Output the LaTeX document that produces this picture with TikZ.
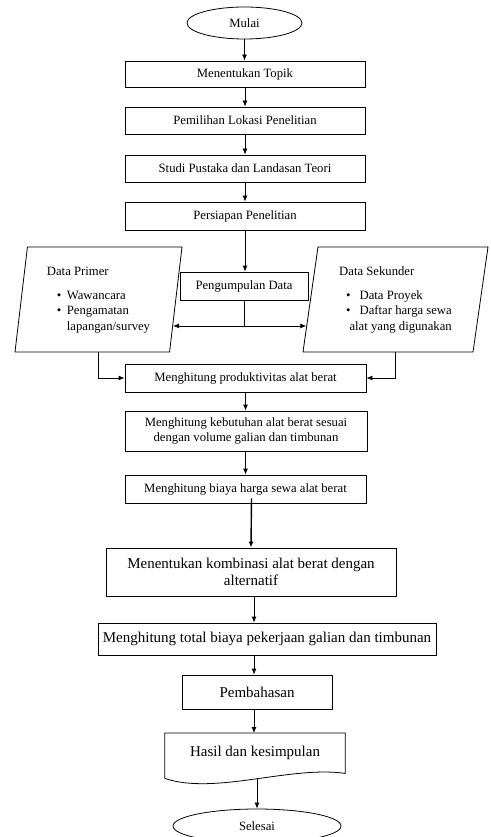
\documentclass[tikz,border=0pt]{standalone}
\usepackage{fontspec}
\setmainfont{Liberation Serif}
\usetikzlibrary{arrows.meta, positioning, shapes.geometric, calc}

\begin{document}
\begin{tikzpicture}[x=1pt, y=-1pt,
    terminal/.style={ellipse, draw, line width=0.8pt, font=\fontsize{12.7}{15}\selectfont, inner sep=0pt},
    process/.style={rectangle, draw, line width=0.8pt, font=\fontsize{12.7}{15.5}\selectfont, align=center, inner sep=2pt},
    process_big/.style={rectangle, draw, line width=0.8pt, font=\fontsize{15}{17.5}\selectfont, align=center, inner sep=2pt},
    datain/.style={trapezium, trapezium stretches body, draw, line width=0.8pt, font=\fontsize{12.7}{15.5}\selectfont, inner sep=0pt},
    docbox/.style={rectangle, font=\fontsize{15}{17.5}\selectfont, inner sep=0pt},
    arrowstyle/.style={-{Latex[length=6pt, width=5pt]}, line width=0.8pt}
  ]
  \useasboundingbox (0,0) rectangle (490,837);

  % --- Main column, top ---
  \node[terminal, minimum width=115, minimum height=32] (mulai) at (244.5,23) {Mulai};
  \node[process, minimum width=240, minimum height=26] (topik) at (245,74) {Menentukan Topik};
  \node[process, minimum width=240, minimum height=27] (lokasi) at (245,120.5) {Pemilihan Lokasi Penelitian};
  \node[process, minimum width=240, minimum height=27] (pustaka) at (245,168.5) {Studi Pustaka dan Landasan Teori};
  \node[process, minimum width=240, minimum height=28] (persiapan) at (245,216) {Persiapan Penelitian};
  \node[process, minimum width=128, minimum height=28] (kumpul) at (244,286) {Pengumpulan Data};

  % --- Data inputs (left and right) ---
  \node[datain, trapezium left angle=80, trapezium right angle=100, minimum width=167, minimum height=105] (primer) at (98.5,299.5) {%
    \begin{tabular}{@{}l@{\hspace{5.5pt}}l@{}}
      \multicolumn{2}{@{}l}{Data Primer}\\[8.5pt]
      \hspace*{10pt}\textbullet & Wawancara\\
      \hspace*{10pt}\textbullet & Pengamatan\\
      & lapangan/survey
    \end{tabular}};
  \node[datain, trapezium left angle=78, trapezium right angle=102, minimum width=185, minimum height=105] (sekunder) at (395.5,299.5) {%
    \begin{tabular}{@{}l@{\hspace{9pt}}l@{}}
      \multicolumn{2}{@{}l}{Data Sekunder}\\[8.5pt]
      \hspace*{7pt}\textbullet & Data Proyek\\
      \hspace*{7pt}\textbullet & Daftar harga sewa\\
      \multicolumn{2}{@{}r@{}}{alat yang digunakan}
    \end{tabular}};

  % --- Main column, bottom ---
  \node[process, minimum width=241, minimum height=28] (produktif) at (245.5,378) {Menghitung produktivitas alat berat};
  \node[process, minimum width=242, minimum height=40] (kebutuhan) at (246,431) {Menghitung kebutuhan alat berat sesuai\\dengan volume galian dan timbunan};
  \node[process, minimum width=241, minimum height=28] (biaya) at (245.5,489) {Menghitung biaya harga sewa alat berat};
  \node[process_big, minimum width=290, minimum height=48] (kombinasi) at (251,572) {Menentukan kombinasi alat berat dengan\\alternatif};
  \node[process_big, minimum width=338, minimum height=32] (total) at (267,639) {Menghitung total biaya pekerjaan galian dan timbunan};
  \node[process_big, minimum width=150, minimum height=34] (bahas) at (257,692) {Pembahasan};
  \node[docbox, minimum width=180, minimum height=40, anchor=north] (hasil) at (255,733) {Hasil dan kesimpulan};
  \draw[line width=0.8pt] ([yshift=-5pt]hasil.south west) -- (hasil.north west) -- (hasil.north east) -- (hasil.south east)
    .. controls +(-55,-8) and +(50,17) .. ([yshift=-5pt]hasil.south west);
  \node[terminal, minimum width=168, minimum height=34] (selesai) at (257,826) {Selesai};

  % --- Connections ---
  \draw[arrowstyle] (mulai.south) -- (mulai.south |- topik.north);
  \draw[arrowstyle] (topik.south) -- (lokasi.north);
  \draw[arrowstyle] (lokasi.south) -- (pustaka.north);
  \draw[arrowstyle] (pustaka.south) -- (persiapan.north);
  \draw[arrowstyle] (persiapan.south) -- (persiapan.south |- kumpul.north);

  \coordinate (pr) at ($(primer.bottom right corner)!0.25!(primer.top right corner)$);
  \coordinate (sk) at ($(sekunder.bottom left corner)!0.25!(sekunder.top left corner)$);
  \coordinate (split) at (kumpul.south |- pr);
  \draw[line width=0.8pt] (kumpul.south) -- (split);
  \draw[arrowstyle] (split) -- (split -| pr);
  \draw[arrowstyle] (split) -- (split -| sk);

  \draw[arrowstyle] (primer.south) |- (produktif.west);
  \draw[arrowstyle] (sekunder.south) |- (produktif.east);

  \draw[arrowstyle] (produktif.south) -- (kebutuhan.north -| produktif.south);
  \draw[arrowstyle] (kebutuhan.south -| produktif.south) -- (biaya.north);
  \draw[arrowstyle, line width=1.4pt] ([xshift=6pt, yshift=5pt]biaya.south) -- (kombinasi.north);
  \draw[arrowstyle] ([xshift=3pt]kombinasi.south) -- ([xshift=3pt]kombinasi.south |- total.north);
  \draw[arrowstyle] ([xshift=-3pt]bahas.north |- total.south) -- ([xshift=-3pt]bahas.north);
  \draw[arrowstyle] ([xshift=-3pt]bahas.south) -- ([xshift=-3pt]bahas.south |- hasil.north);
  \draw[arrowstyle] ([yshift=-6pt]hasil.south -| selesai.north) -- (selesai.north);

\end{tikzpicture}
\end{document}
